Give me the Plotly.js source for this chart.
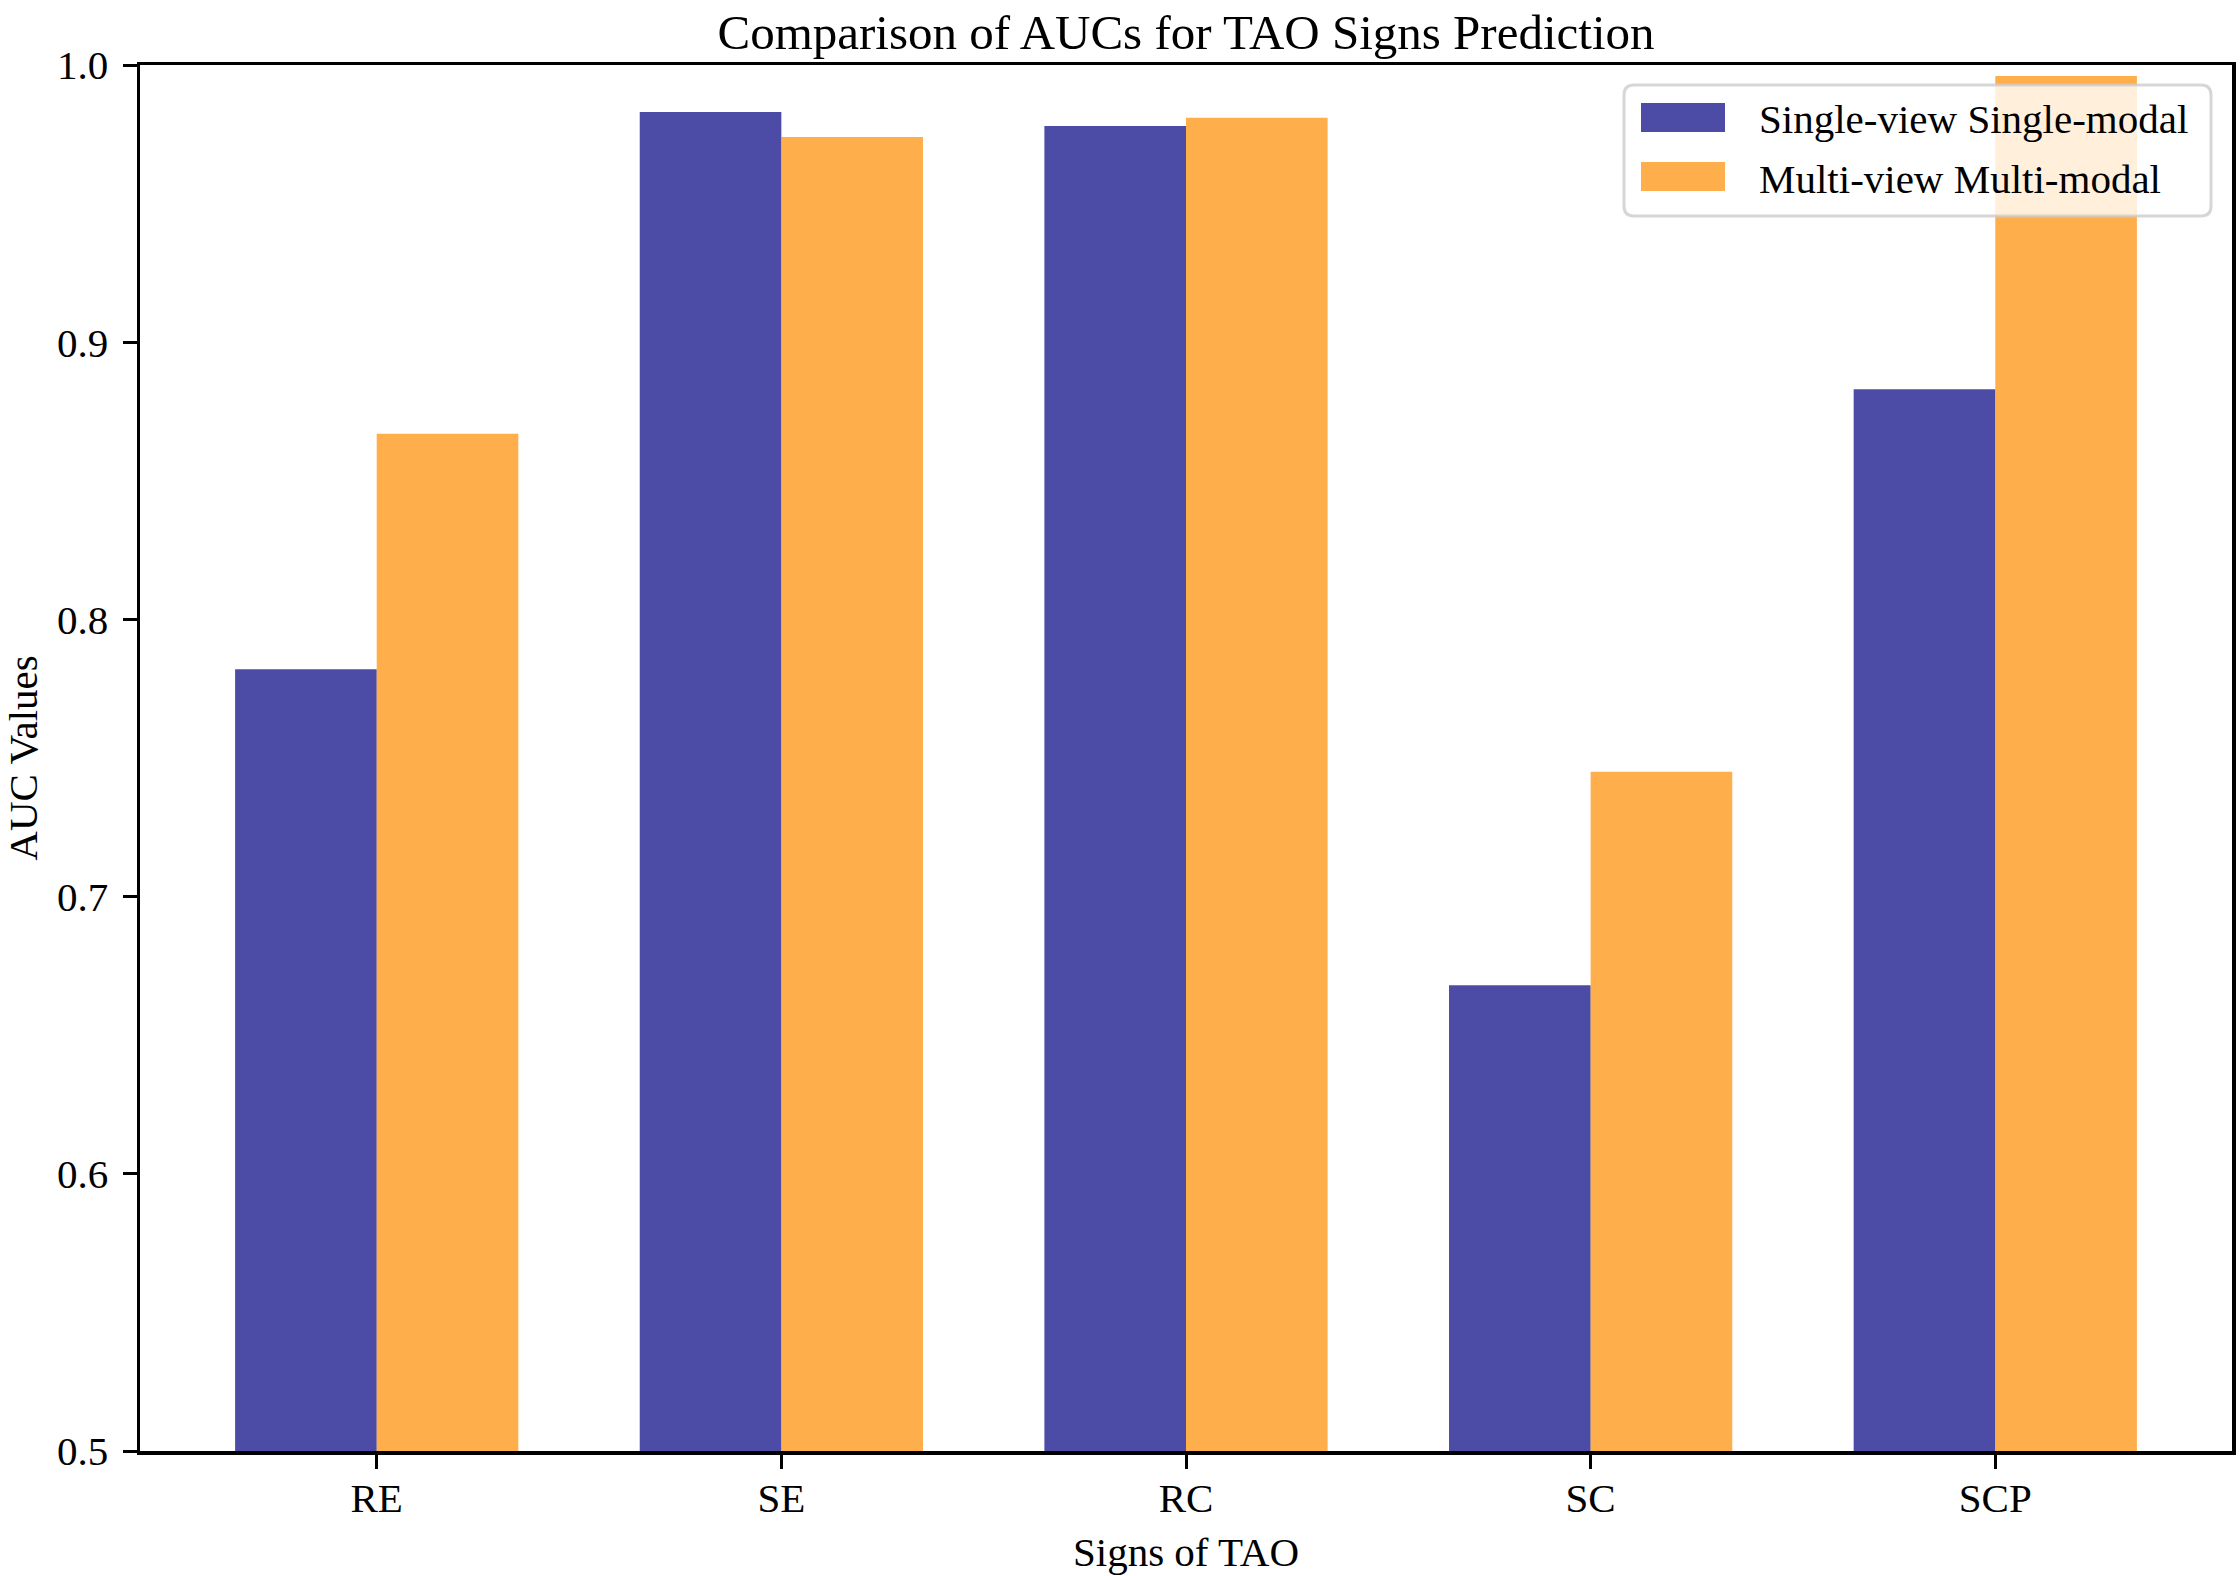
<!DOCTYPE html>
<html>
<head>
<meta charset="utf-8">
<script src="https://cdn.plot.ly/plotly-3.0.1.min.js"></script>
<style>
  html, body { margin: 0; padding: 0; background: #fff; }
  #graph { width: 2240px; height: 1576px; }
</style>
</head>
<body>
<div id="graph"></div>
<script>
/* ----------------Chart data---------------- */

var signs = ['RE', 'SE', 'RC', 'SC', 'SCP'];
var seriesNames = ['Single-view Single-modal', 'Multi-view Multi-modal'];
var singleModal = [0.782, 0.983, 0.978, 0.668, 0.883]; // AUC, single-view single-modal
var multiModal = [0.867, 0.974, 0.981, 0.745, 0.996];  // AUC, multi-view multi-modal
var yTicks = [0.5, 0.6, 0.7, 0.8, 0.9, 1.0];

/* ----------------Look---------------- */

var W = 2240, H = 1576;
var margin = { l: 140, r: 8, t: 65, b: 125 };
var colors = ['rgba(0,0,128,0.7)', 'rgba(255,140,0,0.7)'];
var serif = 'Liberation Serif, Times New Roman, serif';

/**
 * Converts a pixel position on the page to paper coordinates.
 */
function paperX(px) {
    return (px - margin.l) / (W - margin.l - margin.r);
}
function paperY(py) {
    return (H - margin.b - py) / (H - margin.t - margin.b);
}

/**
 * Builds a rounded rectangle path (in paper coordinates) from pixel corners.
 */
function roundedBox(x0, y0, x1, y1, r) {
    var p = function(x, y) { return paperX(x) + ',' + paperY(y); };
    return 'M' + p(x0 + r, y0) +
        ' L' + p(x1 - r, y0) + ' Q' + p(x1, y0) + ' ' + p(x1, y0 + r) +
        ' L' + p(x1, y1 - r) + ' Q' + p(x1, y1) + ' ' + p(x1 - r, y1) +
        ' L' + p(x0 + r, y1) + ' Q' + p(x0, y1) + ' ' + p(x0, y1 - r) +
        ' L' + p(x0, y0 + r) + ' Q' + p(x0, y0) + ' ' + p(x0 + r, y0) + ' Z';
}

/* ----------------Traces---------------- */

var data = [singleModal, multiModal].map(function(vals, i) {
    return {
        type: 'bar',
        x: signs,
        y: vals,
        name: seriesNames[i],
        marker: { color: colors[i], line: { width: 0 } },
        showlegend: false
    };
});

/* ----------------Legend drawn by hand (matplotlib style)---------------- */

var legendBox = { x0: 1624, y0: 85, x1: 2211, y1: 216 };
var swatchRows = [117.5, 176.5]; // pixel centre of each legend row
var shapes = [{
    type: 'path',
    xref: 'paper', yref: 'paper',
    path: roundedBox(legendBox.x0, legendBox.y0, legendBox.x1, legendBox.y1, 10),
    fillcolor: 'rgba(255,255,255,0.8)',
    line: { color: 'rgba(204,204,204,0.8)', width: 3 },
    layer: 'above'
}];
var annotations = [];
seriesNames.forEach(function(name, i) {
    var cy = swatchRows[i];
    shapes.push({
        type: 'rect',
        xref: 'paper', yref: 'paper',
        x0: paperX(1641), x1: paperX(1725),
        y0: paperY(cy - 14.5), y1: paperY(cy + 14.5),
        fillcolor: colors[i],
        line: { width: 0 },
        layer: 'above'
    });
    annotations.push({
        xref: 'paper', yref: 'paper',
        x: paperX(1757), y: paperY(cy + 2),
        xanchor: 'left', yanchor: 'middle',
        text: name,
        showarrow: false,
        font: { family: serif, size: 41, color: '#000' }
    });
});

var layout = {
    width: W,
    height: H,
    margin: margin,
    paper_bgcolor: '#fff',
    plot_bgcolor: '#fff',
    font: { family: serif, size: 41, color: '#000' },
    showlegend: false,
    barmode: 'group',
    bargap: 0.3,
    bargroupgap: 0,
    title: {
        text: 'Comparison of AUCs for TAO Signs Prediction',
        font: { family: serif, size: 49, color: '#000' },
        xref: 'paper', x: 0.5, xanchor: 'center',
        yref: 'container', y: 1 - 32 / H, yanchor: 'middle'
    },
    xaxis: {
        type: 'category',
        range: [-0.585, signs.length - 1 + 0.585],
        showline: true, mirror: true,
        linecolor: '#000', linewidth: 3.5,
        ticks: 'outside', ticklen: 14, tickwidth: 3, tickcolor: '#000',
        ticklabelstandoff: -6,
        showgrid: false, zeroline: false,
        tickfont: { family: serif, size: 41, color: '#000' },
        title: { text: 'Signs of TAO', font: { family: serif, size: 41, color: '#000' }, standoff: 18 }
    },
    yaxis: {
        range: [yTicks[0], yTicks[yTicks.length - 1]],
        tickmode: 'array',
        tickvals: yTicks,
        ticktext: yTicks.map(function(v) { return v.toFixed(1); }),
        showline: true, mirror: true,
        linecolor: '#000', linewidth: 3.5,
        ticks: 'outside', ticklen: 14, tickwidth: 3, tickcolor: '#000',
        ticklabelstandoff: 6,
        showgrid: false, zeroline: false,
        tickfont: { family: serif, size: 41, color: '#000' },
        title: { text: 'AUC Values', font: { family: serif, size: 41, color: '#000' }, standoff: 10 }
    },
    shapes: shapes,
    annotations: annotations
};

var graph = document.getElementById('graph');
Plotly.newPlot(graph, data, layout, { staticPlot: true });
</script>
</body>
</html>
